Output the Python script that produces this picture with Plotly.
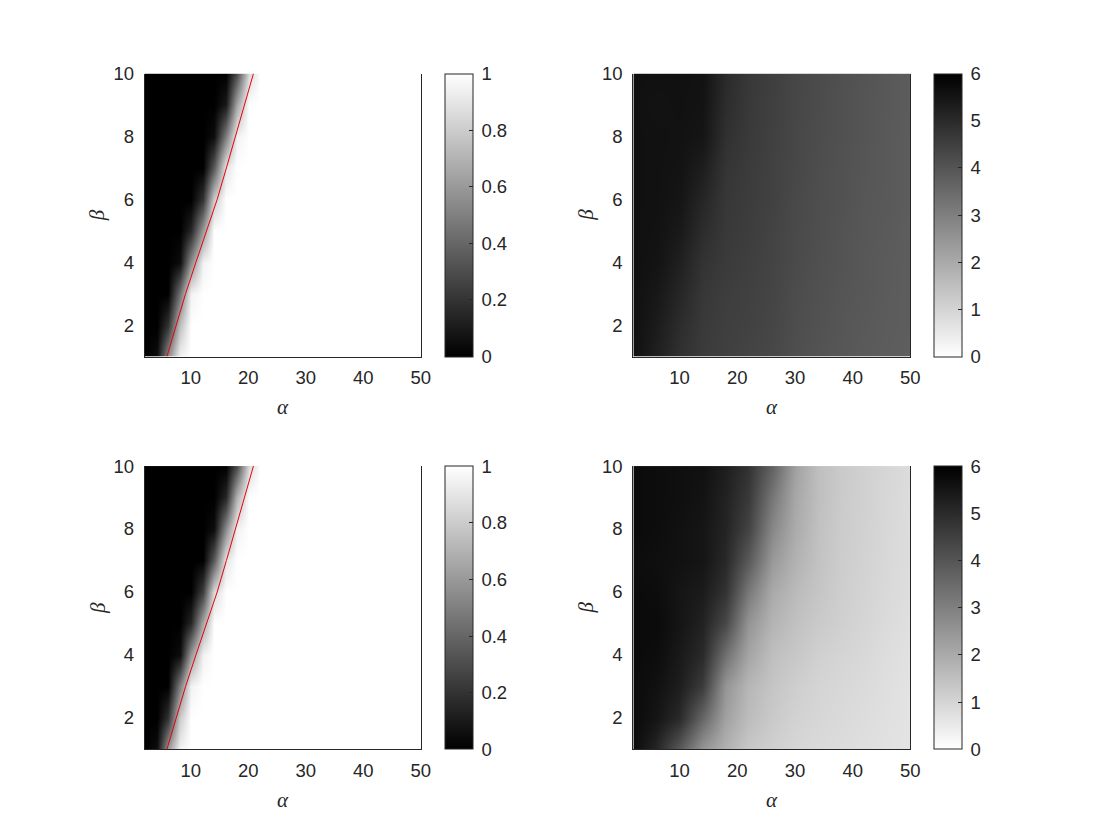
import plotly.graph_objects as go

# simulation grid
alpha = [2, 4, 6, 8, 10, 12, 14, 16, 18, 20, 22, 24, 26, 28, 30, 32, 34, 36, 38, 40, 42, 44, 46, 48, 50]
beta = [1, 2, 3, 4, 5, 6, 7, 8, 9, 10]

# left-hand maps (values in [0, 1]), one row per beta
z_top_left = [
    [0, 0.05, 0.55, 0.95] + [1] * 21,
    [0, 0, 0.2, 0.75] + [1] * 21,
    [0, 0, 0, 0.45, 0.95] + [1] * 20,
    [0, 0, 0, 0.05, 0.55, 0.95] + [1] * 19,
    [0, 0, 0, 0, 0.15, 0.6] + [1] * 19,
    [0] * 5 + [0.2, 0.8] + [1] * 18,
    [0] * 6 + [0.35, 0.9] + [1] * 17,
    [0] * 6 + [0.05, 0.5, 0.95] + [1] * 16,
    [0] * 7 + [0.1, 0.65] + [1] * 16,
    [0] * 8 + [0.3, 0.85] + [1] * 15,
]
z_bottom_left = [
    [0, 0.05, 0.6, 0.95] + [1] * 21,
    [0, 0, 0.2, 0.8] + [1] * 21,
    [0, 0, 0, 0.5, 0.95] + [1] * 20,
    [0, 0, 0, 0.05, 0.6, 0.95] + [1] * 19,
    [0, 0, 0, 0, 0.15, 0.65] + [1] * 19,
    [0] * 5 + [0.25, 0.85] + [1] * 18,
    [0] * 6 + [0.35, 0.9] + [1] * 17,
    [0] * 6 + [0.05, 0.55, 0.95] + [1] * 16,
    [0] * 7 + [0.15, 0.7] + [1] * 16,
    [0] * 8 + [0.3, 0.85] + [1] * 15,
]

# theoretical boundary (red curve)
line_beta = [1, 2, 3, 4, 5, 6, 7, 8, 9, 10]
line_alpha = [5.85, 7.5, 9.1, 10.9, 12.8, 14.6, 16.2, 17.8, 19.4, 20.9]

# right-hand maps on a coarser alpha grid
alpha_c = [2, 6, 10, 14, 18, 22, 26, 30, 34, 38, 42, 46, 50]
z_top_right = [
    [5.6, 5.25, 4.85, 4.6, 4.5, 4.4, 4.32, 4.15, 4.04, 3.96, 3.88, 3.82, 3.78],
    [5.62, 5.35, 4.95, 4.65, 4.52, 4.46, 4.35, 4.18, 4.08, 3.98, 3.9, 3.84, 3.8],
    [5.62, 5.45, 5.1, 4.7, 4.55, 4.48, 4.38, 4.2, 4.1, 4.0, 3.94, 3.85, 3.8],
    [5.62, 5.55, 5.25, 4.8, 4.62, 4.52, 4.4, 4.25, 4.12, 4.04, 3.93, 3.86, 3.8],
    [5.62, 5.58, 5.4, 4.95, 4.66, 4.56, 4.42, 4.26, 4.16, 4.04, 3.95, 3.88, 3.8],
    [5.62, 5.6, 5.5, 5.1, 4.7, 4.58, 4.46, 4.28, 4.16, 4.08, 3.96, 3.9, 3.82],
    [5.62, 5.6, 5.55, 5.3, 4.76, 4.6, 4.46, 4.32, 4.18, 4.08, 3.98, 3.9, 3.82],
    [5.62, 5.6, 5.58, 5.5, 4.86, 4.64, 4.48, 4.32, 4.2, 4.1, 4.0, 3.9, 3.82],
    [5.62, 5.56, 5.6, 5.55, 4.95, 4.66, 4.5, 4.34, 4.22, 4.1, 4.0, 3.92, 3.83],
    [5.62, 5.62, 5.6, 5.58, 5.0, 4.68, 4.52, 4.35, 4.22, 4.12, 4.02, 3.92, 3.83],
]
z_bottom_right = [
    [5.75, 5.1, 3.9, 2.5, 1.8, 1.3, 1.1, 0.95, 0.88, 0.82, 0.76, 0.7, 0.64],
    [5.75, 5.5, 5.0, 3.6, 2.2, 1.55, 1.25, 1.05, 0.95, 0.88, 0.8, 0.72, 0.65],
    [5.75, 5.6, 5.3, 4.6, 2.5, 1.7, 1.35, 1.15, 1.0, 0.92, 0.85, 0.75, 0.66],
    [5.75, 5.7, 5.4, 5.0, 3.35, 2.1, 1.5, 1.3, 1.1, 1.0, 0.9, 0.78, 0.7],
    [5.75, 5.75, 5.5, 5.2, 4.3, 2.5, 1.75, 1.45, 1.25, 1.1, 0.98, 0.84, 0.74],
    [5.75, 5.7, 5.5, 5.35, 4.8, 3.15, 2.0, 1.6, 1.35, 1.15, 1.02, 0.88, 0.78],
    [5.7, 5.65, 5.6, 5.5, 5.05, 3.9, 2.4, 1.8, 1.42, 1.18, 1.05, 0.9, 0.8],
    [5.75, 5.7, 5.6, 5.5, 5.15, 4.4, 2.8, 1.95, 1.45, 1.2, 1.07, 0.92, 0.8],
    [5.75, 5.7, 5.65, 5.55, 5.2, 4.65, 3.2, 2.05, 1.5, 1.22, 1.08, 0.93, 0.82],
    [5.75, 5.7, 5.65, 5.6, 5.3, 4.8, 3.7, 2.2, 1.5, 1.25, 1.1, 0.95, 0.82],
]

W, H = 1120, 840
OFF = 8  # default body margin of the html page
TXT = "#262626"
TICK_FONT = dict(family="Liberation Sans, Arial, sans-serif", size=18.5, color=TXT)
GREEK_FONT = dict(family="Liberation Serif, DejaVu Serif, serif", size=21, color=TXT)

# panel boxes in page pixels: left, right, top, bottom, colorbar left
panels = [
    (146, 424.5, 63.3, 350, 449),
    (639, 918.5, 63.3, 350, 942),
    (146, 424.5, 461, 748, 449),
    (639, 918.5, 461, 748, 942),
]


def fx(px):
    return (px - OFF) / W


def fy(py):
    return 1 - (py - OFF) / H


gray_up = [[0, "black"], [1, "white"]]
gray_down = [[0, "white"], [1, "black"]]

maps = [
    (alpha, z_top_left, gray_up, 1, 0.2),
    (alpha_c, z_top_right, gray_down, 6, 1),
    (alpha, z_bottom_left, gray_up, 1, 0.2),
    (alpha_c, z_bottom_right, gray_down, 6, 1),
]

fig = go.Figure()

for i, ((x, z, cs, zmax, dt), (l, r, t, b, cb)) in enumerate(zip(maps, panels)):
    n = "" if i == 0 else str(i + 1)
    fig.add_trace(go.Heatmap(
        x=x, y=beta, z=z, zsmooth="best", colorscale=cs, zmin=0, zmax=zmax,
        xaxis="x" + n, yaxis="y" + n, hoverinfo="skip",
        colorbar=dict(
            x=fx(cb), xanchor="left", xpad=0, ypad=0,
            y=fy(b), yanchor="bottom", len=(b - t) / H, lenmode="fraction",
            thickness=28, thicknessmode="pixels",
            outlinewidth=1, outlinecolor=TXT,
            ticks="inside", ticklen=4, tickcolor=TXT, tickprefix="\u2009",
            tick0=0, dtick=dt, tickfont=TICK_FONT,
        ),
    ))
    if i in (0, 2):
        fig.add_trace(go.Scatter(
            x=line_alpha, y=line_beta, mode="lines",
            line=dict(color="#e8000b", width=1),
            xaxis="x" + n, yaxis="y" + n, hoverinfo="skip",
        ))

    fig.layout["xaxis" + n] = dict(
        domain=[fx(l), fx(r)], anchor="y" + n, range=[2, 50],
        tickvals=[10, 20, 30, 40, 50], ticks="", ticklabelstandoff=4,
        showline=True, linecolor=TXT, linewidth=1, mirror=False,
        showgrid=False, zeroline=False, tickfont=TICK_FONT,
    )
    fig.layout["yaxis" + n] = dict(
        domain=[fy(b), fy(t)], anchor="x" + n, range=[1, 10],
        tickvals=[2, 4, 6, 8, 10], ticks="", ticklabelstandoff=6,
        showline=True, linecolor=TXT, linewidth=1, mirror=True,
        showgrid=False, zeroline=False, tickfont=TICK_FONT,
    )
    fig.add_annotation(
        text="<i>α</i>", x=fx((l + r) / 2), y=fy(b + 51),
        xanchor="center", yanchor="middle",
        xref="paper", yref="paper", showarrow=False, font=GREEK_FONT,
    )
    fig.add_annotation(
        text="<i>β</i>", x=fx(l - 48), y=fy((t + b) / 2),
        xanchor="center", yanchor="middle",
        xref="paper", yref="paper", showarrow=False, textangle=-90, font=GREEK_FONT,
    )

fig.update_layout(
    width=W, height=H, margin=dict(l=0, r=0, t=0, b=0),
    paper_bgcolor="white", plot_bgcolor="white", showlegend=False,
)

fig.write_html("out.html")
